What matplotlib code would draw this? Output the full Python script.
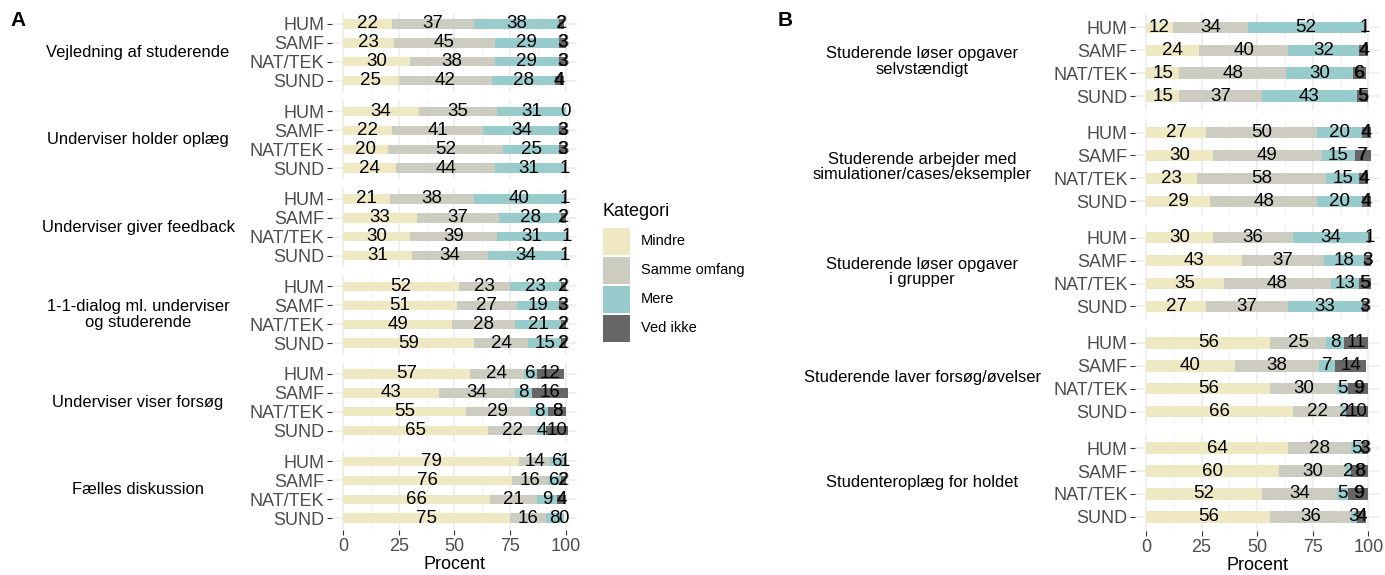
import matplotlib
matplotlib.use("Agg")
import matplotlib.pyplot as plt
from matplotlib.patches import Rectangle

plt.rcParams['font.family'] = ['Liberation Sans', 'DejaVu Sans']

W, H = 1385, 575

faculties = ["HUM", "SAMF", "NAT/TEK", "SUND"]
categories = ["Mindre", "Samme omfang", "Mere", "Ved ikke"]
colors = ["#EEE8C3", "#CDCCC1", "#98CBCC", "#666666"]

# Panel A
topics_A = ["Vejledning af studerende",
            "Underviser holder oplæg",
            "Underviser giver feedback",
            "1-1-dialog ml. underviser\nog studerende",
            "Underviser viser forsøg",
            "Fælles diskussion"]
# values per topic: rows = HUM, SAMF, NAT/TEK, SUND; cols = Mindre, Samme, Mere, Ved ikke
vejledning = [[22, 37, 38, 2], [23, 45, 29, 3], [30, 38, 29, 3], [25, 42, 28, 4]]
holder_oplaeg = [[34, 35, 31, 0], [22, 41, 34, 3], [20, 52, 25, 3], [24, 44, 31, 1]]
feedback = [[21, 38, 40, 1], [33, 37, 28, 2], [30, 39, 31, 1], [31, 34, 34, 1]]
dialog = [[52, 23, 23, 2], [51, 27, 19, 3], [49, 28, 21, 2], [59, 24, 15, 2]]
viser_forsoeg = [[57, 24, 6, 12], [43, 34, 8, 16], [55, 29, 8, 8], [65, 22, 4, 10]]
faelles = [[79, 14, 6, 1], [76, 16, 6, 2], [66, 21, 9, 4], [75, 16, 8, 0]]
values_A = [vejledning, holder_oplaeg, feedback, dialog, viser_forsoeg, faelles]

# Panel B
topics_B = ["Studerende løser opgaver\nselvstændigt",
            "Studerende arbejder med\nsimulationer/cases/eksempler",
            "Studerende løser opgaver\ni grupper",
            "Studerende laver forsøg/øvelser",
            "Studenteroplæg for holdet"]
selvstaendigt = [[12, 34, 52, 1], [24, 40, 32, 4], [15, 48, 30, 6], [15, 37, 43, 5]]
simulationer = [[27, 50, 20, 4], [30, 49, 15, 7], [23, 58, 15, 4], [29, 48, 20, 4]]
grupper = [[30, 36, 34, 1], [43, 37, 18, 3], [35, 48, 13, 5], [27, 37, 33, 3]]
forsoeg_oevelser = [[56, 25, 8, 11], [40, 38, 7, 14], [56, 30, 5, 9], [66, 22, 2, 10]]
studenteroplaeg = [[64, 28, 5, 3], [60, 30, 2, 8], [52, 34, 5, 9], [56, 36, 3, 4]]
values_B = [selvstaendigt, simulationer, grupper, forsoeg_oevelser, studenteroplaeg]

xticks = [0, 25, 50, 75, 100]

fig = plt.figure(figsize=(W / 100, H / 100), dpi=100)
fig.patch.set_facecolor("white")


def px_axes(x0, y0, x1, y1):
    return fig.add_axes([x0 / W, 1 - y1 / H, (x1 - x0) / W, (y1 - y0) / H])


def draw_panel(topics, values, x0, x1, top, pitch, height, strip_x):
    n = len(topics)
    for i, (topic, vals) in enumerate(zip(topics, values)):
        y0 = top + i * pitch
        y1 = y0 + height
        ax = px_axes(x0, y0, x1, y1)
        ax.set_xlim(-5, 105)
        ax.set_ylim(4.6, 0.4)
        for s in ax.spines.values():
            s.set_visible(False)
        # grid
        for g in [12.5, 37.5, 62.5, 87.5]:
            ax.axvline(g, color="#F2F2F2", lw=0.6, zorder=0)
        for g in xticks:
            ax.axvline(g, color="#EBEBEB", lw=1.1, zorder=0)
        ys = list(range(1, 5))
        for yy in ys:
            ax.axhline(yy, color="#EBEBEB", lw=1.1, zorder=0)
        for r, row in enumerate(vals):
            left = 0
            for c, v in enumerate(row):
                ax.barh(r + 1, v, left=left, height=0.5, color=colors[c],
                        edgecolor="none", zorder=2)
                cx = left + v / 2
                ax.text(cx, r + 1, str(v), ha="center", va="center",
                        fontsize=13.5, color="black", zorder=3)
                if c == 3 and 1 < v < 10:
                    ax.text(cx + 0.25, r + 1, str(v), ha="center", va="center",
                            fontsize=13.5, color="black", alpha=0.6, zorder=3)
                left += v
        ax.set_yticks(ys)
        ax.set_yticklabels(faculties)
        ax.tick_params(axis="y", length=3.8, width=0.8, color="#333333",
                       labelcolor="#4D4D4D", labelsize=13, pad=1.5)
        ax.set_xticks(xticks)
        if i == n - 1:
            ax.set_xticklabels([str(t) for t in xticks])
            ax.tick_params(axis="x", length=3.8, width=0.8, color="#333333",
                           labelcolor="#4D4D4D", labelsize=13, pad=2)
            ax.set_xlabel("Procent", fontsize=13, color="black", labelpad=1)
        else:
            ax.tick_params(axis="x", length=0, labelbottom=False)
        cy = (y0 + y1) / 2
        fig.text(strip_x / W, 1 - cy / H, topic, ha="center", va="center",
                 multialignment="center", fontsize=11.9, color="black",
                 linespacing=1.05)


# Panel A: row spacing ~18.9px, panel height 4.2*18.9
draw_panel(topics_A, values_A, 331.85, 577.0, 12.6, 87.5, 79.4, 138)
# Panel B
draw_panel(topics_B, values_B, 1134.9, 1379.4, 13.6, 105.2, 96.2, 922)

fig.text(10 / W, 1 - 21 / H, "A", fontsize=15, fontweight="bold", va="center", ha="left")
fig.text(778 / W, 1 - 20 / H, "B", fontsize=15, fontweight="bold", va="center", ha="left")

# Legend
fig.text(603 / W, 1 - 211 / H, "Kategori", fontsize=13, va="center", ha="left")
for k, (lab, col) in enumerate(zip(categories, colors)):
    cy = 241 + 29 * k
    fig.add_artist(Rectangle((603 / W, 1 - (cy + 13.5) / H), 27 / W, 27 / H,
                             transform=fig.transFigure, facecolor=col,
                             edgecolor="none"))
    fig.text(641 / W, 1 - cy / H, lab, fontsize=10.5, va="center", ha="left")

fig.savefig("out.png", dpi=100)
